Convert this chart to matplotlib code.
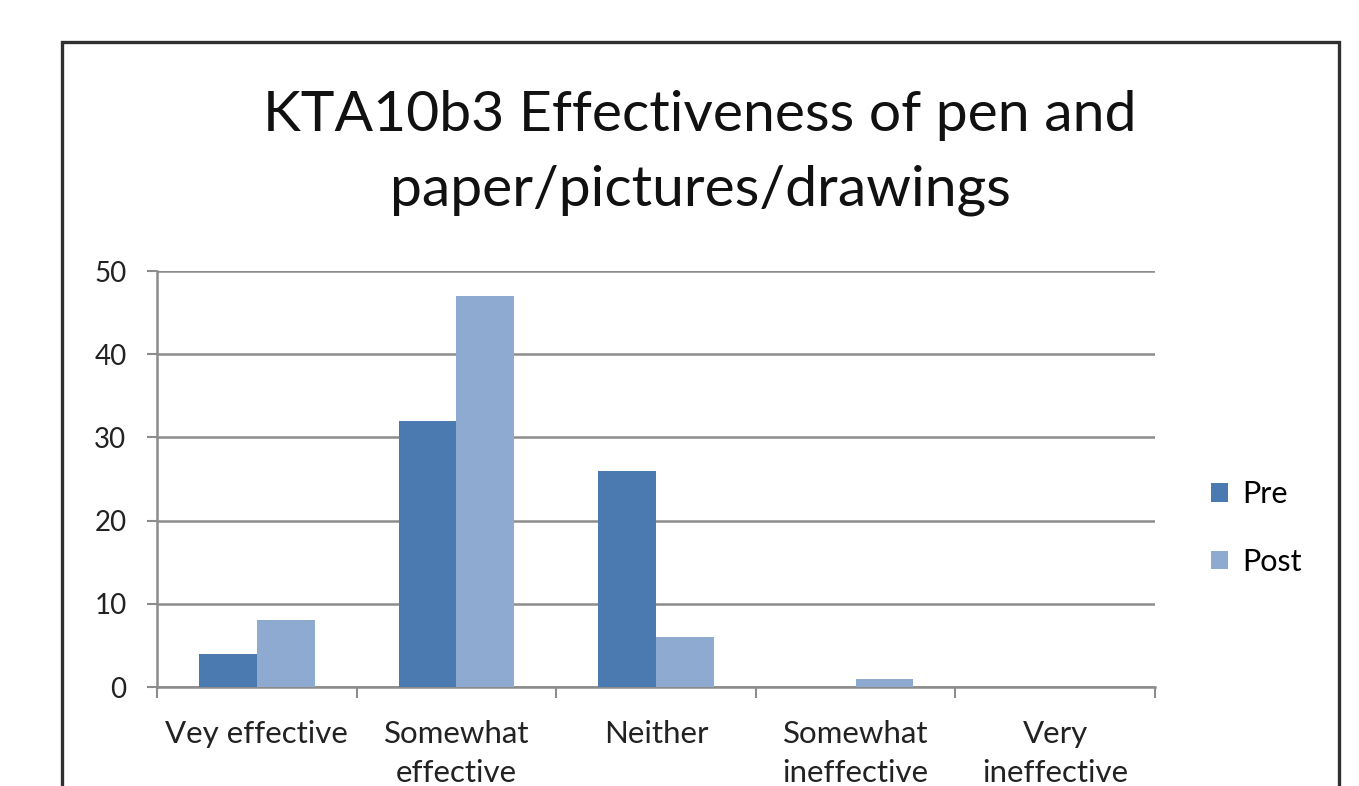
import numpy as np
import matplotlib
matplotlib.use('Agg')
import matplotlib.pyplot as plt
from matplotlib.patches import Rectangle

plt.rcParams['font.family'] = ['Lato', 'DejaVu Sans']

categories = ['Vey effective', 'Somewhat\neffective', 'Neither', 'Somewhat\nineffective', 'Very\nineffective']
pre = [4, 32, 26, 0, 0]
post = [8, 47, 6, 1, 0]
series_names = ['Pre', 'Post']
title_lines = ['KTA10b3 Effectiveness of pen and', 'paper/pictures/drawings']

pre_color = '#4a7aaf'
post_color = '#8eaad1'
grid_color = '#8c8c8c'

W, H = 1359, 786
fig = plt.figure(figsize=(W / 100, H / 100), dpi=100)
fig.patch.set_facecolor('white')

# outer chart frame, runs off the bottom edge
frame = Rectangle((62 / W, -0.2), (1339 - 62) / W, (H - 42) / H + 0.2,
                  transform=fig.transFigure, fill=False, edgecolor='#303030',
                  linewidth=2.4, zorder=0)
fig.patches.append(frame)

# title, one text per line so the baselines stay put
for line, base in zip(title_lines, [131, 205]):
    fig.text(700 / W, (H - base) / H, line, ha='center', va='baseline',
             fontsize=41, color='#111111')

ax = fig.add_axes([157 / W, 99 / H, 998 / W, 416 / H])
x = np.arange(len(categories))
w = 0.29
b1 = ax.bar(x - w / 2, pre, width=w, color=pre_color, label=series_names[0], zorder=3)
b2 = ax.bar(x + w / 2, post, width=w, color=post_color, label=series_names[1], zorder=3)

ax.set_xlim(-0.5, len(categories) - 0.5)
ax.set_ylim(0, 50)
ax.set_yticks([0, 10, 20, 30, 40, 50])
ax.yaxis.grid(True, color=grid_color, linewidth=1.8, zorder=0)

# category boundaries get the ticks, names sit in between
ax.set_xticks(np.arange(-0.5, len(categories), 1.0))
ax.set_xticklabels([])
ax.set_xticks(x, minor=True)
ax.set_xticklabels(categories, minor=True, fontsize=22.5, color='#222222', linespacing=1.45)
ax.tick_params(axis='x', which='minor', length=0, pad=24)
ax.tick_params(axis='x', which='major', length=8, width=1.5, color=grid_color)
ax.tick_params(axis='y', length=7, width=1.5, color=grid_color, labelsize=20,
               labelcolor='#222222', pad=15)

for side in ['top', 'right']:
    ax.spines[side].set_visible(False)
for side in ['left', 'bottom']:
    ax.spines[side].set_color(grid_color)
    ax.spines[side].set_linewidth(1.8)

fig.legend(handles=[b1, b2], loc='center left', bbox_to_anchor=(1196 / W, 0.328),
           frameon=False, fontsize=22, handlelength=0.55, handleheight=0.55,
           handletextpad=0.45, labelspacing=1.3, borderpad=0)

fig.savefig('out.png', dpi=100, facecolor='white')
